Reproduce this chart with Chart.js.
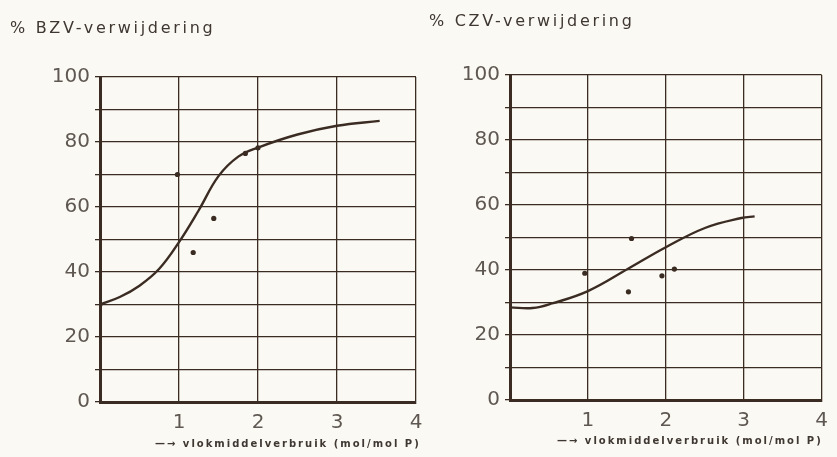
<!DOCTYPE html>
<html>
<head>
<meta charset="utf-8">
<script src="https://cdn.jsdelivr.net/npm/chart.js@4/dist/chart.umd.min.js"></script>
<style>
  body { margin: 0; width: 837px; height: 457px; overflow: hidden; position: relative; background: #fbf9f3; font-family: "DejaVu Sans", sans-serif; }
  canvas { position: absolute; top: 0; }
  .titel { position: absolute; font-size: 16px; letter-spacing: 2.7px; color: #3f3732; white-space: nowrap; }
  .xtitel { position: absolute; font-size: 10px; font-weight: bold; letter-spacing: 2px; color: #3f3732; white-space: nowrap; }
</style>
</head>
<body>
<canvas id="bzv" width="432" height="457" style="left:0"></canvas>
<canvas id="czv" width="419" height="457" style="left:418px"></canvas>
<div class="titel" style="left:10px;top:18px">% BZV-verwijdering</div>
<div class="titel" style="left:429px;top:11px">% CZV-verwijdering</div>
<div class="xtitel" style="left:155px;top:438px">—→ vlokmiddelverbruik (mol/mol P)</div>
<div class="xtitel" style="left:557px;top:435px">—→ vlokmiddelverbruik (mol/mol P)</div>
<script>
// x-as: vlokmiddelverbruik (mol/mol P), y-as: % verwijdering
const xTicks = [0, 1, 2, 3, 4];
const yTicks = [0, 20, 40, 60, 80, 100];

// BZV curve + meetpunten
const bzvCurveX = [0, 0.25, 0.5, 0.75, 1.0, 1.25, 1.5, 1.75, 2.0, 2.5, 3.0, 3.54];
const bzvCurveY = [30, 32.3, 35.8, 41, 49.2, 59, 69.5, 75.5, 78.3, 82.3, 85, 86.5];
const bzvPuntX = [0, 0.98, 1.18, 1.44, 1.84, 2.0];
const bzvPuntY = [30, 70, 46, 56.5, 76.5, 78.2];

// CZV curve + meetpunten
const czvCurveX = [0, 0.29, 0.54, 1.0, 1.51, 2.0, 2.51, 2.97, 3.14];
const czvCurveY = [28.5, 28.3, 29.7, 33.5, 40.3, 47, 53, 56, 56.5];
const czvPuntX = [0.96, 1.52, 1.56, 1.95, 2.11];
const czvPuntY = [39, 33.3, 49.7, 38.2, 40.3];

const lijnKleur = '#3b2c23';
const tekstKleur = '#5f5852';

const naarPunten = (xs, ys) => xs.map((x, i) => ({ x: x, y: ys[i] }));

const maakGrafiek = (id, curveX, curveY, puntX, puntY, asBreedte, asHoogte, boven, rechts) => {
  const ctx = document.getElementById(id);
  return new Chart(ctx, {
    type: 'scatter',
    data: {
      datasets: [
        {
          data: naarPunten(curveX, curveY),
          showLine: true,
          pointRadius: 0,
          borderColor: lijnKleur,
          borderWidth: 2.4,
          tension: 0.4,
        },
        {
          data: naarPunten(puntX, puntY),
          showLine: false,
          pointRadius: 2.6,
          backgroundColor: lijnKleur,
          borderWidth: 0,
        },
      ],
    },
    options: {
      responsive: false,
      animation: false,
      layout: { padding: { left: 0, right: rechts, top: boven, bottom: 0 } },
      plugins: { legend: { display: false }, tooltip: { enabled: false } },
      scales: {
        x: {
          type: 'linear',
          min: xTicks[0],
          max: xTicks[xTicks.length - 1],
          ticks: {
            stepSize: 1,
            padding: 9,
            color: tekstKleur,
            font: { family: 'DejaVu Sans', size: 20 },
            callback: (v) => (v === 0 ? '' : v),
          },
          grid: { color: lijnKleur, lineWidth: 1.3, drawTicks: false },
          border: { color: lijnKleur, width: 3 },
          afterFit: (s) => { s.height = asHoogte; },
        },
        y: {
          min: yTicks[0],
          max: yTicks[yTicks.length - 1],
          ticks: {
            stepSize: 10,
            padding: 5,
            color: tekstKleur,
            font: { family: 'DejaVu Sans', size: 20 },
            callback: (v) => (yTicks.includes(v) ? v : ''),
          },
          grid: { color: lijnKleur, lineWidth: 1.3, tickLength: 5 },
          border: { color: lijnKleur, width: 3 },
          afterFit: (s) => { s.width = asBreedte; },
        },
      },
    },
  });
};

maakGrafiek('bzv', bzvCurveX, bzvCurveY, bzvPuntX, bzvPuntY, 100, 55, 77, 16);
maakGrafiek('czv', czvCurveX, czvCurveY, czvPuntX, czvPuntY, 92, 57, 75, 8);
</script>
</body>
</html>
